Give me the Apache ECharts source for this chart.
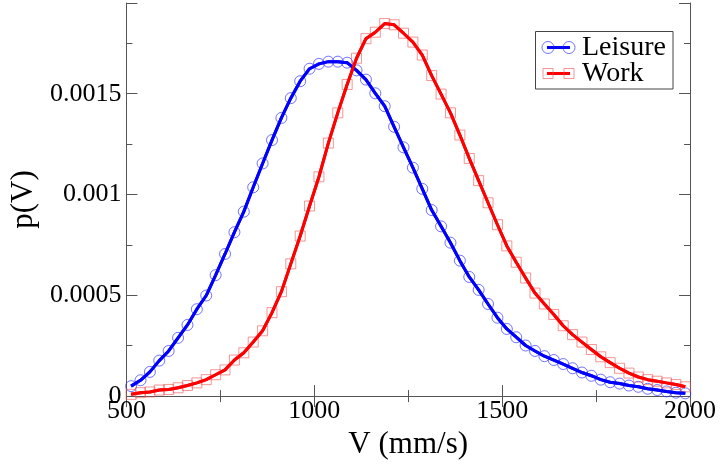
<!DOCTYPE html>
<html><head><meta charset="utf-8">
<script src="https://cdn.jsdelivr.net/npm/echarts@6/dist/echarts.min.js"></script>
<style>html,body{margin:0;padding:0;background:#fff}#c{width:720px;height:465px}</style>
</head><body><div id="c"></div>
<script>
const speeds = [512.5, 537.5, 562.5, 587.5, 612.5, 637.5, 662.5, 687.5, 712.5, 737.5,
  762.5, 787.5, 812.5, 837.5, 862.5, 887.5, 912.5, 937.5, 962.5, 987.5,
  1012.5, 1037.5, 1062.5, 1087.5, 1112.5, 1137.5, 1162.5, 1187.5, 1212.5, 1237.5,
  1262.5, 1287.5, 1312.5, 1337.5, 1362.5, 1387.5, 1412.5, 1437.5, 1462.5, 1487.5,
  1512.5, 1537.5, 1562.5, 1587.5, 1612.5, 1637.5, 1662.5, 1687.5, 1712.5, 1737.5,
  1762.5, 1787.5, 1812.5, 1837.5, 1862.5, 1887.5, 1912.5, 1937.5, 1962.5, 1987.5];
const leisure = [0.0000495, 0.0000786, 0.000120, 0.000176, 0.000224, 0.000289, 0.000353, 0.000431, 0.000499, 0.000600,
  0.000705, 0.000813, 0.000915, 0.001036, 0.001154, 0.00127, 0.00138, 0.001478, 0.001562, 0.001624,
  0.001648, 0.001659, 0.001659, 0.001654, 0.001616, 0.001570, 0.001502, 0.001438, 0.001336, 0.001234,
  0.001133, 0.001028, 0.000923, 0.000842, 0.000761, 0.000672, 0.000591, 0.000527, 0.000457, 0.000389,
  0.000333, 0.000292, 0.000251, 0.000224, 0.000198, 0.000179, 0.000159, 0.000138, 0.000117, 0.000101,
  0.0000816, 0.0000689, 0.0000621, 0.0000524, 0.0000461, 0.0000364, 0.0000301, 0.0000233, 0.000017, 0.0000136];
const work = [0.0000087, 0.000017, 0.0000204, 0.00003, 0.000033, 0.0000413, 0.0000524, 0.0000655, 0.0000816, 0.000106,
  0.00013, 0.000179, 0.000215, 0.000268, 0.000324, 0.000414, 0.000518, 0.000656, 0.000794, 0.000943,
  0.001088, 0.001255, 0.001405, 0.001546, 0.001676, 0.001773, 0.001805, 0.001848, 0.001842, 0.0018,
  0.001756, 0.001692, 0.00159, 0.001498, 0.001405, 0.001295, 0.001179, 0.001069, 0.000959, 0.00085,
  0.000745, 0.000664, 0.000586, 0.000511, 0.000457, 0.000405, 0.000349, 0.000305, 0.000268, 0.000231,
  0.000195, 0.000166, 0.000138, 0.000114, 0.0000947, 0.0000816, 0.0000738, 0.0000655, 0.0000573, 0.0000461];
const seriesNames = ['Leisure', 'Work'];
const yTickValues = [0, 0.0005, 0.001, 0.0015];
const yTickLabels = ['0', '0.0005', '0.001', '0.0015'];
const xTickValues = [500, 1000, 1500, 2000];
const xTickLabels = ['500', '1000', '1500', '2000'];

const FONT = '"Liberation Serif", "DejaVu Serif", serif';
const AX = '#555';
const BLUE = '#0000ff', RED = '#ff0000';
const BLUE_MK = 'rgba(40,40,255,0.65)', RED_MK = 'rgba(240,80,80,0.6)';
function pairs(ys) { return speeds.map((x, i) => [x, ys[i]]); }

function xAxisDef(pos, showLabel) {
  return {
    type: 'value', position: pos, min: 500, max: 2000, interval: 500,
    axisLine: { show: true, lineStyle: { color: AX, width: 1 } },
    axisTick: { show: true, inside: true, length: 11, lineStyle: { color: AX } },
    minorTick: { show: true, splitNumber: 2, length: 6, lineStyle: { color: AX } },
    splitLine: { show: false },
    axisLabel: showLabel ? {
      show: true, margin: 2, color: '#000', fontFamily: FONT, fontSize: 26,
      formatter: v => { const i = xTickValues.indexOf(v); return i >= 0 ? xTickLabels[i] : ''; }
    } : { show: false },
    name: showLabel ? 'V (mm/s)' : '', nameLocation: 'middle', nameGap: 26,
    nameTextStyle: { color: '#000', fontFamily: FONT, fontSize: 31 }
  };
}
function yAxisDef(pos, showLabel) {
  return {
    type: 'value', position: pos, min: 0, max: 0.00195, interval: 0.0005,
    axisLine: { show: true, lineStyle: { color: AX, width: 1 } },
    axisTick: { show: true, inside: true, length: 11, lineStyle: { color: AX } },
    minorTick: { show: true, splitNumber: 2, length: 6, lineStyle: { color: AX } },
    splitLine: { show: false },
    axisLabel: showLabel ? {
      show: true, margin: 5, color: '#000', fontFamily: FONT, fontSize: 26, showMaxLabel: false,
      formatter: v => { for (let i = 0; i < yTickValues.length; i++) if (Math.abs(v - yTickValues[i]) < 1e-9) return yTickLabels[i]; return ''; }
    } : { show: false },
    name: showLabel ? 'p(V)' : '', nameLocation: 'middle', nameGap: 80, nameRotate: 90,
    nameTextStyle: { color: '#000', fontFamily: FONT, fontSize: 31 }
  };
}

// legend drawn as graphic (line with a marker at each end, like the original)
function legendItem(y, name, color, mk, symbol) {
  const els = [
    { type: 'line', z: 101, shape: { x1: 547, y1: y, x2: 570, y2: y }, style: { stroke: color, lineWidth: 3 } }
  ];
  [548, 569].forEach(cx => {
    if (symbol === 'circle') {
      els.push({ type: 'circle', z: 102, shape: { cx: cx, cy: y, r: 6 }, style: { fill: 'rgba(0,0,0,0)', stroke: mk, lineWidth: 1 } });
    } else {
      els.push({ type: 'rect', z: 102, shape: { x: cx - 5, y: y - 5, width: 10, height: 10 }, style: { fill: 'rgba(0,0,0,0)', stroke: mk, lineWidth: 1 } });
    }
  });
  els.push({ type: 'text', z: 102, x: 582, y: y + 0.5, style: { text: name, fill: '#000', fontFamily: FONT, fontSize: 28, align: 'left', verticalAlign: 'middle', textAlign: 'left', textVerticalAlign: 'middle' } });
  return els;
}

const chart = echarts.init(document.getElementById('c'), null, { renderer: 'canvas' });
chart.setOption({
  animation: false,
  backgroundColor: '#fff',
  grid: { left: 117, right: 30, top: 3, bottom: 61.5, containLabel: false },
  xAxis: [xAxisDef('bottom', true), xAxisDef('top', false)],
  yAxis: [yAxisDef('left', true), yAxisDef('right', false)],
  graphic: [
    { type: 'rect', z: 100, shape: { x: 535.5, y: 31.5, width: 137.5, height: 57.5 }, style: { fill: '#fff', stroke: '#444', lineWidth: 1 } }
  ].concat(legendItem(47.5, seriesNames[0], BLUE, BLUE_MK, 'circle'))
   .concat(legendItem(73.5, seriesNames[1], RED, RED_MK, 'rect')),
  series: [
    { type: 'line', name: seriesNames[0], data: pairs(leisure), symbol: 'circle', symbolSize: 11,
      lineStyle: { color: BLUE, width: 3 },
      itemStyle: { color: 'rgba(255,255,255,0)', borderColor: BLUE_MK, borderWidth: 1 }, z: 2 },
    { type: 'line', name: seriesNames[1], data: pairs(work), symbol: 'rect', symbolSize: 10,
      lineStyle: { color: RED, width: 3 },
      itemStyle: { color: 'rgba(255,255,255,0)', borderColor: RED_MK, borderWidth: 1 }, z: 2 },
    { type: 'line', name: seriesNames[0] + ' line', data: pairs(leisure), showSymbol: false, symbol: 'none',
      lineStyle: { color: BLUE, width: 3 }, z: 3, silent: true },
    { type: 'line', name: seriesNames[1] + ' line', data: pairs(work), showSymbol: false, symbol: 'none',
      lineStyle: { color: RED, width: 3 }, z: 3, silent: true }
  ]
});
</script>
</body></html>
